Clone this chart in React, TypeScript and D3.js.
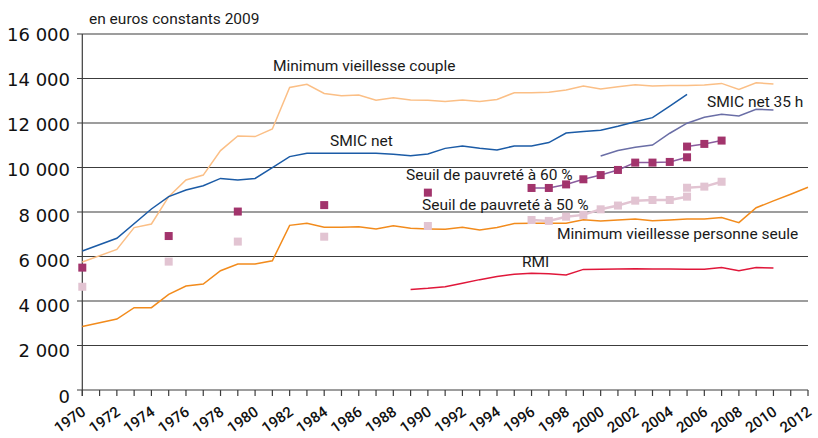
import React from "react";
import * as d3 from "d3";

// ---------- data ----------
const yTicks = [0, 2000, 4000, 6000, 8000, 10000, 12000, 14000, 16000];
const xTickYears = d3.range(1970, 2013, 1);
const xLabelYears = d3.range(1970, 2013, 2);

const coupleYears = [1970, 1972, 1973, 1974, 1975, 1976, 1977, 1978, 1979, 1980, 1981, 1982, 1983, 1984, 1985, 1986, 1987, 1988, 1989, 1990, 1991, 1992, 1993, 1994, 1995, 1996, 1997, 1998, 1999, 2000, 2001, 2002, 2003, 2004, 2005, 2006, 2007, 2008, 2009, 2010];
const coupleValues = [5750, 6320, 7300, 7460, 8690, 9440, 9660, 10760, 11420, 11390, 11730, 13600, 13740, 13330, 13230, 13260, 13020, 13140, 13030, 13020, 12970, 13030, 12970, 13060, 13360, 13360, 13380, 13480, 13660, 13530, 13630, 13720, 13660, 13690, 13690, 13710, 13780, 13510, 13810, 13750];

const smicYears = [1970, 1972, 1974, 1975, 1976, 1977, 1978, 1979, 1980, 1981, 1982, 1983, 1984, 1985, 1986, 1987, 1988, 1989, 1990, 1991, 1992, 1993, 1994, 1995, 1996, 1997, 1998, 1999, 2000, 2001, 2002, 2003, 2004, 2005];
const smicValues = [6250, 6820, 8135, 8690, 8990, 9180, 9510, 9440, 9510, 9990, 10490, 10640, 10640, 10640, 10640, 10640, 10590, 10530, 10610, 10860, 10970, 10860, 10790, 10970, 10970, 11120, 11550, 11620, 11670, 11850, 12060, 12240, 12760, 13290];

const smic35Years = [2000, 2001, 2002, 2003, 2004, 2005, 2006, 2007, 2008, 2009, 2010];
const smic35Values = [10520, 10760, 10910, 11010, 11540, 11990, 12260, 12390, 12320, 12620, 12580];

const seuleYears = [1970, 1972, 1973, 1974, 1975, 1976, 1977, 1978, 1979, 1980, 1981, 1982, 1983, 1984, 1985, 1986, 1987, 1988, 1989, 1990, 1991, 1992, 1993, 1994, 1995, 1996, 1997, 1998, 1999, 2000, 2001, 2002, 2003, 2004, 2005, 2006, 2007, 2008, 2009, 2010, 2011, 2012];
const seuleValues = [2850, 3190, 3700, 3700, 4300, 4670, 4760, 5360, 5660, 5660, 5810, 7400, 7490, 7310, 7310, 7340, 7240, 7380, 7270, 7240, 7220, 7310, 7190, 7300, 7480, 7490, 7490, 7490, 7650, 7600, 7640, 7680, 7610, 7640, 7680, 7690, 7750, 7520, 8190, 8500, 8800, 9110];

const rmiYears = [1989, 1990, 1991, 1992, 1993, 1994, 1995, 1996, 1997, 1998, 1999, 2000, 2001, 2002, 2003, 2004, 2005, 2006, 2007, 2008, 2009, 2010];
const rmiValues = [4520, 4570, 4640, 4800, 4960, 5100, 5200, 5250, 5220, 5170, 5420, 5430, 5440, 5450, 5440, 5440, 5430, 5430, 5500, 5360, 5500, 5480];

const pov60EarlyYears = [1970, 1975, 1979, 1984, 1990];
const pov60EarlyValues = [5500, 6920, 8020, 8310, 8870];
const pov60OldYears = [1996, 1997, 1998, 1999, 2000, 2001, 2002, 2003, 2004, 2005];
const pov60OldValues = [9080, 9080, 9240, 9470, 9660, 9890, 10220, 10220, 10250, 10460];
const pov60NewYears = [2005, 2006, 2007];
const pov60NewValues = [10940, 11060, 11210];

const pov50EarlyYears = [1970, 1975, 1979, 1984, 1990];
const pov50EarlyValues = [4640, 5770, 6670, 6890, 7370];
const pov50OldYears = [1996, 1997, 1998, 1999, 2000, 2001, 2002, 2003, 2004, 2005];
const pov50OldValues = [7640, 7600, 7790, 7870, 8120, 8290, 8510, 8540, 8540, 8690];
const pov50NewYears = [2005, 2006, 2007];
const pov50NewValues = [9090, 9140, 9360];

// ---------- layout ----------
const W = 818;
const H = 438;
const x = d3.scaleLinear().domain([1970, 2012]).range([82.3, 808]);
const y = d3.scaleLinear().domain([0, 16000]).range([390, 34]);
// tick labels in the original are spaced slightly wider than the gridlines
const yLab = d3.scaleLinear().domain([0, 16000]).range([396, 34]);

const zip = (ys: number[], vs: number[]) => ys.map((yr, i) => [yr, vs[i]] as [number, number]);
const line = d3
  .line<[number, number]>()
  .x((d) => x(d[0]))
  .y((d) => y(d[1]));

const FONT = "Roboto, 'DejaVu Sans', sans-serif";

const Squares = ({ data, color }: { data: [number, number][]; color: string }) => (
  <g>
    {data.map((d, i) => (
      <rect key={i} x={x(d[0]) - 4} y={y(d[1]) - 4} width={8} height={8} fill={color} />
    ))}
  </g>
);

export default function App() {
  const pov60Line = "#8a5c9e";
  const pov60Sq = "#a2346c";
  const pov50 = "#e2c4d2";
  return (
    <div style={{ position: "absolute", left: 0, top: 0 }}>
      <svg width={W} height={H} style={{ display: "block", background: "#fff" }} fontFamily={FONT}>
        {/* grid */}
        {yTicks.map((t) => (
          <line key={t} x1={77} x2={808} y1={y(t)} y2={y(t)} stroke="#3c3c3c" strokeWidth={1.2} />
        ))}
        <line x1={82.3} x2={82.3} y1={34} y2={396} stroke="#3c3c3c" strokeWidth={1.2} />
        {xTickYears.map((yr) => (
          <line key={yr} x1={x(yr)} x2={x(yr)} y1={390} y2={396} stroke="#3c3c3c" strokeWidth={1.2} />
        ))}
        {yTicks.map((t) => (
          <text
            key={t}
            x={70}
            y={yLab(t) + 6.5}
            textAnchor="end"
            fontSize={18}
            fontFamily="'DejaVu Sans', sans-serif"
            fill="#111"
          >
            {d3.format(",")(t).replace(/,/g, " ")}
          </text>
        ))}
        {xLabelYears.map((yr) => (
          <text
            key={yr}
            transform={`translate(${x(yr) + 4.5},${414}) rotate(-35)`}
            textAnchor="end"
            fontSize={15}
            fontWeight={500}
            fill="#111"
          >
            {yr}
          </text>
        ))}
        <text x={89} y={24} fontSize={15.5} fill="#1a1a1a">
          en euros constants 2009
        </text>

        {/* lines */}
        <path d={line(zip(coupleYears, coupleValues)) || ""} fill="none" stroke="#fbbf86" strokeWidth={1.5} />
        <path d={line(zip(smicYears, smicValues)) || ""} fill="none" stroke="#1b5ba6" strokeWidth={1.5} />
        <path d={line(zip(smic35Years, smic35Values)) || ""} fill="none" stroke="#6a6ea6" strokeWidth={1.5} />
        <path d={line(zip(seuleYears, seuleValues)) || ""} fill="none" stroke="#f28b1c" strokeWidth={1.5} />
        <path d={line(zip(rmiYears, rmiValues)) || ""} fill="none" stroke="#e0173a" strokeWidth={1.5} />

        <path d={line(zip(pov50OldYears, pov50OldValues)) || ""} fill="none" stroke={pov50} strokeWidth={2.5} />
        <path d={line(zip(pov50NewYears, pov50NewValues)) || ""} fill="none" stroke={pov50} strokeWidth={2.5} />
        <Squares data={zip(pov50EarlyYears, pov50EarlyValues)} color={pov50} />
        <Squares data={zip(pov50OldYears, pov50OldValues)} color={pov50} />
        <Squares data={zip(pov50NewYears, pov50NewValues)} color={pov50} />

        <path d={line(zip(pov60OldYears, pov60OldValues)) || ""} fill="none" stroke={pov60Line} strokeWidth={1.5} />
        <path d={line(zip(pov60NewYears, pov60NewValues)) || ""} fill="none" stroke={pov60Line} strokeWidth={1.5} />
        <Squares data={zip(pov60EarlyYears, pov60EarlyValues)} color={pov60Sq} />
        <Squares data={zip(pov60OldYears, pov60OldValues)} color={pov60Sq} />
        <Squares data={zip(pov60NewYears, pov60NewValues)} color={pov60Sq} />

        {/* labels */}
        <g fontSize={15.5} fill="#1a1a1a">
          <text x={273} y={71}>Minimum vieillesse couple</text>
          <text x={330} y={146}>SMIC net</text>
          <text x={707} y={107}>SMIC net 35 h</text>
          <text x={406} y={180}>Seuil de pauvreté à 60 %</text>
          <text x={422} y={210}>Seuil de pauvreté à 50 %</text>
          <text x={557} y={239}>Minimum vieillesse personne seule</text>
          <text x={522} y={267}>RMI</text>
        </g>
      </svg>
    </div>
  );
}
